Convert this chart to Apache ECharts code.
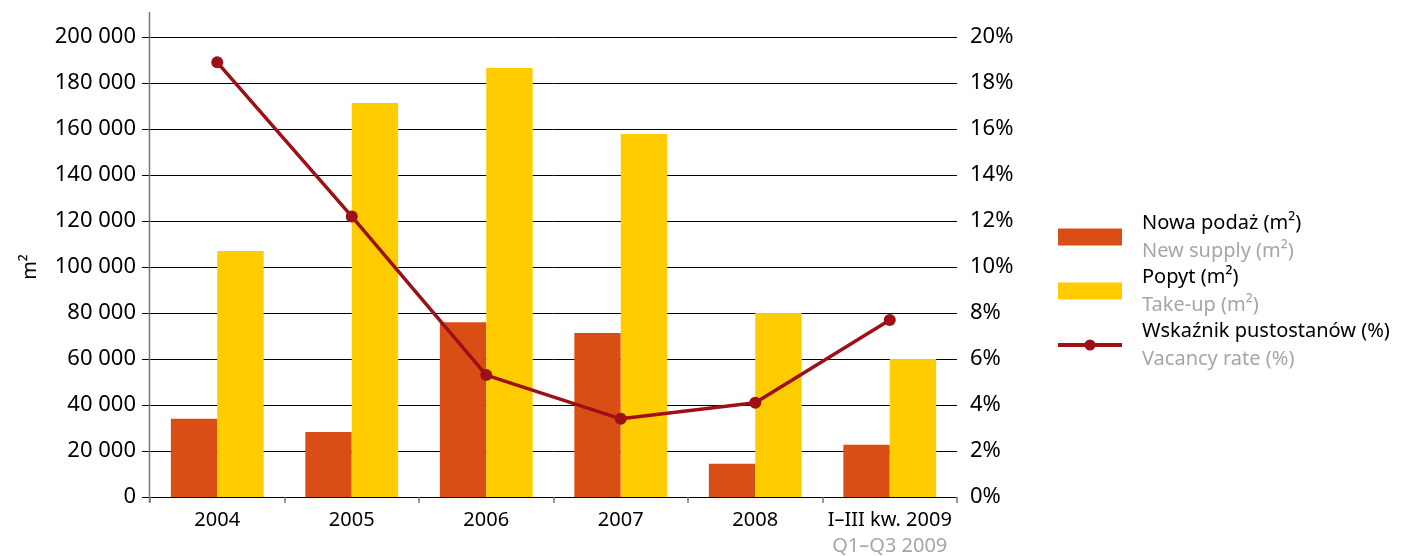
<!DOCTYPE html>
<html>
<head>
<meta charset="utf-8">
<script src="https://cdn.jsdelivr.net/npm/echarts@6/dist/echarts.min.js"></script>
<style>
html,body{margin:0;padding:0;background:#fff;}
#c{width:1402px;height:556px;}
</style>
</head>
<body>
<div id="c"></div>
<script>
const categories = ['2004', '2005', '2006', '2007', '2008', 'I–III kw. 2009'];
const categoriesSub = ['', '', '', '', '', 'Q1–Q3 2009'];
const newSupply = [34000, 28300, 76000, 71300, 14500, 22700];
const takeUp = [107000, 171300, 186500, 157800, 80000, 60000];
const vacancyRate = [18.9, 12.2, 5.3, 3.4, 4.1, 7.7];
const seriesNames = ['Nowa podaż (m²)', 'Popyt (m²)', 'Wskaźnik pustostanów (%)'];
const seriesNamesEn = ['New supply (m²)', 'Take-up (m²)', 'Vacancy rate (%)'];
const leftAxisName = 'm²';

const FONT = 'Noto Sans';
const chart = echarts.init(document.getElementById('c'), null, {renderer: 'canvas'});
const fmtThousands = v => String(v).replace(/\B(?=(\d{3})+(?!\d))/g, ' ');
const lineIcon = 'path://M0,0M64,17M0,6.5h64v4H0z M37.5,8.5a5.5,5.5 0 1,1 -11,0a5.5,5.5 0 1,1 11,0z';

chart.setOption({
  animation: false,
  backgroundColor: '#fff',
  textStyle: {fontFamily: FONT},
  grid: {left: 150, right: 445, top: 37, bottom: 59, containLabel: false},
  legend: {
    orient: 'vertical',
    left: 1058,
    top: 213,
    padding: 0,
    itemWidth: 64,
    itemHeight: 17,
    itemGap: 6,
    selectedMode: false,
    data: [
      {name: seriesNames[0], icon: 'rect'},
      {name: seriesNames[1], icon: 'rect'},
      {name: seriesNames[2], icon: lineIcon}
    ],
    formatter: function (name) {
      const i = seriesNames.indexOf(name);
      return '{a|' + name + '}\n{b|' + seriesNamesEn[i] + '}';
    },
    textStyle: {
      fontFamily: FONT,
      rich: {
        a: {fontFamily: FONT, fontSize: 20, color: '#000', lineHeight: 28, padding: [0, 0, 0, 15]},
        b: {fontFamily: FONT, fontSize: 20, color: '#a6a6a6', lineHeight: 28, padding: [0, 0, 0, 15]}
      }
    }
  },
  xAxis: {
    type: 'category',
    data: categories,
    axisLine: {show: true, lineStyle: {color: '#000', width: 1}},
    axisTick: {show: true, length: 6, alignWithLabel: false, lineStyle: {color: '#777', width: 1.5}},
    axisLabel: {
      margin: 10,
      interval: 0,
      formatter: function (v, i) {
        return categoriesSub[i] ? '{a|' + v + '}\n{b|' + categoriesSub[i] + '}' : '{a|' + v + '}';
      },
      rich: {
        a: {fontFamily: FONT, fontSize: 20, color: '#000', lineHeight: 26},
        b: {fontFamily: FONT, fontSize: 20, color: '#a6a6a6', lineHeight: 26}
      }
    }
  },
  yAxis: [
    {
      type: 'value',
      min: 0, max: 200000, interval: 20000,
      name: leftAxisName,
      nameLocation: 'middle',
      nameRotate: 90,
      nameGap: 110,
      nameTextStyle: {fontFamily: FONT, fontSize: 20, color: '#000'},
      axisLine: {show: false},
      axisTick: {show: true, length: 8, lineStyle: {color: '#000', width: 1}},
      splitLine: {show: true, lineStyle: {color: '#000', width: 1}},
      axisLabel: {margin: 14, fontFamily: FONT, fontSize: 22, color: '#000', formatter: fmtThousands}
    },
    {
      type: 'value',
      min: 0, max: 20, interval: 2,
      axisLine: {show: false},
      axisTick: {show: false},
      splitLine: {show: false},
      axisLabel: {margin: 13, fontFamily: FONT, fontSize: 22, color: '#000', formatter: '{value}%'}
    }
  ],
  series: [
    {
      name: seriesNames[0], type: 'bar', data: newSupply,
      barWidth: '34.5%', barGap: '0%',
      itemStyle: {color: '#d84e14'}
    },
    {
      name: seriesNames[1], type: 'bar', data: takeUp,
      barWidth: '34.5%', barGap: '0%',
      itemStyle: {color: '#ffcc00'}
    },
    {
      name: seriesNames[2], type: 'line', yAxisIndex: 1, data: vacancyRate,
      symbol: 'circle', symbolSize: 12,
      lineStyle: {color: '#9c1016', width: 3.5},
      itemStyle: {color: '#9c1016'},
      z: 5
    }
  ],
  graphic: [
    {
      type: 'line', z: 10,
      shape: {x1: 149.5, y1: 12, x2: 149.5, y2: 503},
      style: {stroke: '#777', lineWidth: 1.5}
    }
  ]
});
</script>
</body>
</html>
